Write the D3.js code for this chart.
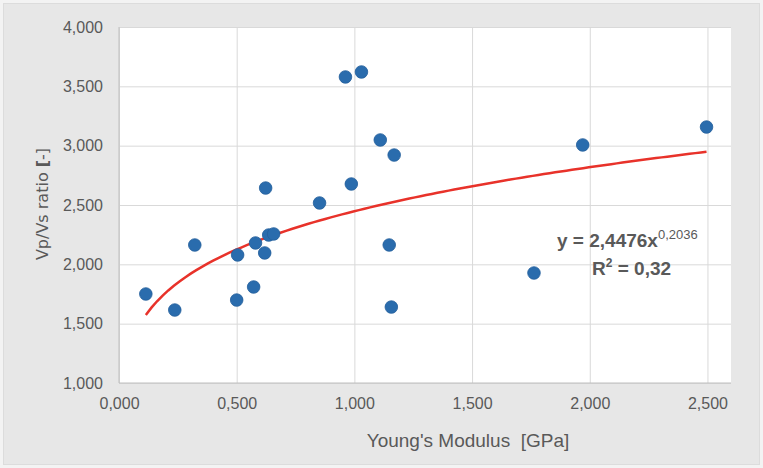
<!DOCTYPE html>
<html>
<head>
<meta charset="utf-8">
<script src="https://cdn.jsdelivr.net/npm/d3@7"></script>
<style>
  body { margin: 0; background: #f3f3f3; }
  text { fill: #595959; }
</style>
</head>
<body>
<div id="chart"></div>
<script>
// Young's modulus [GPa] vs Vp/Vs ratio
const modulus = [0.114, 0.237, 0.322, 0.500, 0.504, 0.572, 0.580, 0.619, 0.623, 0.636, 0.657,
                 0.852, 0.962, 0.987, 1.030, 1.110, 1.169, 1.148, 1.157, 1.763, 1.970, 2.496];
const vpvs    = [1.750, 1.615, 2.163, 1.699, 2.079, 1.809, 2.180, 2.096, 2.643, 2.247, 2.256,
                 2.517, 3.579, 2.677, 3.621, 3.048, 2.921, 2.163, 1.640, 1.927, 3.006, 3.157];
const xTicks = [0, 0.5, 1.0, 1.5, 2.0, 2.5];
const yTicks = [1.0, 1.5, 2.0, 2.5, 3.0, 3.5, 4.0];
// power trendline shown on the chart: y = 2,4476 x^0,2036, R² = 0,32
const trendA = 2.4476;
const trendB = 0.2036;

const width = 763, height = 468;
const margin = { top: 27, right: 32, bottom: 85, left: 119 };
const w = width - margin.left - margin.right;
const h = height - margin.top - margin.bottom;

const svg = d3.select("#chart").append("svg")
  .attr("width", width)
  .attr("height", height);

// chart area background
svg.append("rect")
  .attr("x", 3.5).attr("y", 3.5)
  .attr("width", width - 7).attr("height", height - 7)
  .attr("fill", "#e7e7e7")
  .attr("stroke", "#dcdcdc");

const g = svg.append("g").attr("transform", `translate(${margin.left},${margin.top})`);

const x = d3.scaleLinear().domain([0, 2.6]).range([0, w]);
const y = d3.scaleLinear().domain([1, 4]).range([h, 0]);

const fmt = v => d3.format(".3f")(v).replace(".", ",");
const font = "'Liberation Sans', Arial, sans-serif";

g.append("rect").attr("width", w).attr("height", h).attr("fill", "#ffffff");

// grid lines
g.append("g")
  .call(d3.axisLeft(y).tickValues(yTicks).tickSize(-w).tickFormat(""))
  .call(a => a.select(".domain").remove())
  .selectAll("line").attr("stroke", "#d9d9d9");
g.append("g")
  .call(d3.axisBottom(x).tickValues(xTicks).tickSize(h).tickFormat(""))
  .call(a => a.select(".domain").remove())
  .selectAll("line").attr("stroke", "#d9d9d9");

// axis lines
g.append("line").attr("x1", 0).attr("x2", w).attr("y1", h).attr("y2", h).attr("stroke", "#bfbfbf");
g.append("line").attr("x1", 0).attr("x2", 0).attr("y1", 0).attr("y2", h).attr("stroke", "#bfbfbf");

// tick labels
const yAxis = g.append("g")
  .call(d3.axisLeft(y).tickValues(yTicks).tickSize(0).tickPadding(16).tickFormat(fmt));
yAxis.select(".domain").remove();
yAxis.selectAll("text")
  .attr("font-family", font)
  .attr("font-size", 16).style("fill", "#595959");

const xAxis = g.append("g")
  .attr("transform", `translate(0,${h})`)
  .call(d3.axisBottom(x).tickValues(xTicks).tickSize(0).tickPadding(15).tickFormat(fmt));
xAxis.select(".domain").remove();
xAxis.selectAll("text")
  .attr("font-family", font)
  .attr("font-size", 16).style("fill", "#595959");

// trendline
const xMin = d3.min(modulus), xMax = d3.max(modulus);
const trendPts = d3.range(0, 101).map(i => {
  const xv = xMin + (xMax - xMin) * i / 100;
  return [xv, trendA * Math.pow(xv, trendB)];
});
g.append("path")
  .datum(trendPts)
  .attr("fill", "none")
  .attr("stroke", "#e8322a")
  .attr("stroke-width", 2.5)
  .attr("d", d3.line().x(d => x(d[0])).y(d => y(d[1])));

// points
g.selectAll("circle.pt")
  .data(modulus.map((m, i) => [m, vpvs[i]]))
  .enter().append("circle")
  .attr("class", "pt")
  .attr("cx", d => x(d[0]))
  .attr("cy", d => y(d[1]))
  .attr("r", 6.3)
  .attr("fill", "#2a6cad")
  .attr("stroke", "#24609c")
  .attr("stroke-width", 0.8);

// equation label
const eq = svg.append("text")
  .attr("x", 557).attr("y", 247)
  .attr("font-family", font)
  .attr("font-size", 19).attr("font-weight", "bold");
eq.append("tspan").text("y = 2,4476x");
eq.append("tspan").attr("dy", -8).attr("font-size", 13).attr("font-weight", "normal").text("0,2036");
const r2 = svg.append("text")
  .attr("x", 592).attr("y", 275)
  .attr("font-family", font)
  .attr("font-size", 19).attr("font-weight", "bold");
r2.append("tspan").text("R");
r2.append("tspan").attr("dy", -8).attr("font-size", 12).text("2");
r2.append("tspan").attr("dy", 8).text(" = 0,32");

// axis titles
svg.append("text")
  .attr("x", 468).attr("y", 447)
  .attr("text-anchor", "middle")
  .attr("font-family", font)
  .attr("font-size", 19)
  .attr("xml:space", "preserve")
  .text("Young's Modulus  [GPa]");

const yt = svg.append("text")
  .attr("transform", "translate(48,204) rotate(-90)")
  .attr("text-anchor", "middle")
  .attr("font-family", "'DejaVu Sans', sans-serif")
  .attr("font-size", 16);
yt.append("tspan").text("Vp/Vs ratio ");
yt.append("tspan").attr("font-weight", "bold").text("[");
yt.append("tspan").text("-]");
</script>
</body>
</html>
